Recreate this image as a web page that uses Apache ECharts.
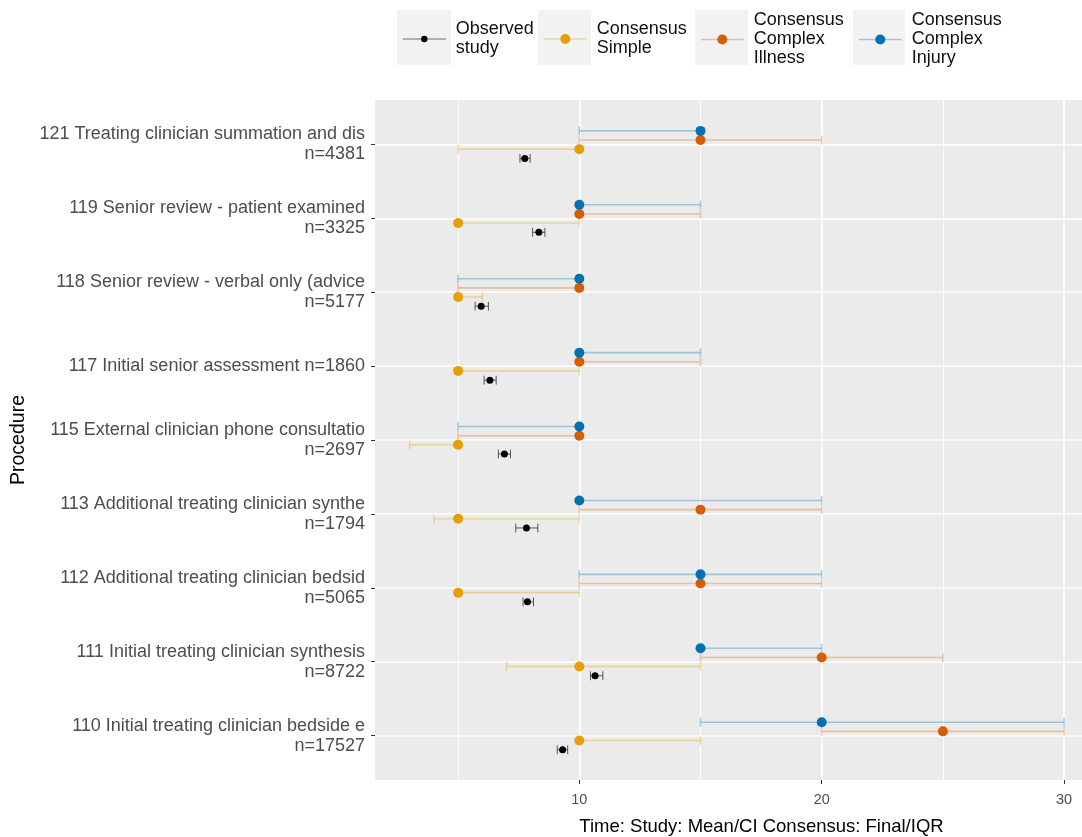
<!DOCTYPE html>
<html>
<head>
<meta charset="utf-8">
<script src="https://cdn.jsdelivr.net/npm/echarts@6/dist/echarts.min.js"></script>
<style>
  html, body { margin: 0; padding: 0; background: #ffffff; }
  #chart { width: 1082px; height: 837px; }
</style>
</head>
<body>
<div id="chart"></div>
<script>
// Procedures, top to bottom, as shown on the y axis
const procedures = [
  '121 Treating clinician summation and dis\nn=4381',
  '119 Senior review - patient examined\nn=3325',
  '118 Senior review - verbal only (advice\nn=5177',
  '117 Initial senior assessment n=1860',
  '115 External clinician phone consultatio\nn=2697',
  '113 Additional treating clinician synthe\nn=1794',
  '112 Additional treating clinician bedsid\nn=5065',
  '111 Initial treating clinician synthesis\nn=8722',
  '110 Initial treating clinician bedside e\nn=17527'
];

// Observed study: mean time with confidence interval
const observedMean = [7.75, 8.33, 5.95, 6.31, 6.91, 7.82, 7.86, 10.65, 9.31];
const observedLow  = [7.55, 8.07, 5.70, 6.07, 6.66, 7.38, 7.68, 10.46, 9.09];
const observedHigh = [7.97, 8.58, 6.25, 6.57, 7.16, 8.29, 8.11, 10.97, 9.52];

// Consensus (simple case): final value with IQR
const simpleFinal = [10, 5, 5, 5, 5, 5, 5, 10, 10];
const simpleLow   = [5, 5, 5, 5, 3, 4, 5, 7, 10];
const simpleHigh  = [10, 10, 6, 10, 5, 10, 10, 15, 15];

// Consensus (complex illness): final value with IQR
const illnessFinal = [15, 10, 10, 10, 10, 15, 15, 20, 25];
const illnessLow   = [10, 10, 5, 10, 5, 10, 10, 15, 20];
const illnessHigh  = [20, 15, 10, 15, 10, 20, 20, 25, 30];

// Consensus (complex injury): final value with IQR
const injuryFinal = [15, 10, 10, 10, 10, 10, 15, 15, 20];
const injuryLow   = [10, 10, 5, 10, 5, 10, 10, 15, 15];
const injuryHigh  = [15, 15, 10, 15, 10, 20, 20, 20, 30];

const seriesNames = ['Observed\nstudy', 'Consensus\nSimple', 'Consensus\nComplex\nIllness', 'Consensus\nComplex\nInjury'];
const xTickValues = [10, 20, 30];
const procedureTicks = procedures.map((_, i) => i);

const FONT = "'Liberation Sans', Arial, Helvetica, sans-serif";

// Drawing styles for each group; dodge is the vertical shift within a procedure row (in row units)
const groups = [
  { name: seriesNames[0], mid: observedMean, low: observedLow, high: observedHigh,
    dodge: 0.19, dot: '#000000', dotSize: 7, bar: 'rgba(60,60,60,0.85)', barWidth: 1,
    keyLine: '#9a9a9a', keyLeft: 402, keyTop: 20, keyHeight: 8 },
  { name: seriesNames[1], mid: simpleFinal, low: simpleLow, high: simpleHigh,
    dodge: 0.065, dot: '#E69F00', dotSize: 10, bar: 'rgba(230,159,0,0.32)', barWidth: 1.6,
    keyLine: 'rgba(230,159,0,0.35)', keyLeft: 543, keyTop: 20, keyHeight: 12.5 },
  { name: seriesNames[2], mid: illnessFinal, low: illnessLow, high: illnessHigh,
    dodge: -0.058, dot: '#D55E00', dotSize: 10, bar: 'rgba(213,94,0,0.30)', barWidth: 1.6,
    keyLine: 'rgba(213,94,0,0.35)', keyLeft: 700, keyTop: 11, keyHeight: 12.5 },
  { name: seriesNames[3], mid: injuryFinal, low: injuryLow, high: injuryHigh,
    dodge: -0.182, dot: '#0072B2', dotSize: 10, bar: 'rgba(0,114,178,0.32)', barWidth: 1.6,
    keyLine: 'rgba(0,114,178,0.35)', keyLeft: 858, keyTop: 11, keyHeight: 12.5 }
];

const CAP = 0.12; // error-bar cap height, in row units

const series = [];
groups.forEach(g => {
  // points (line series without a visible line, so the legend key shows line + dot)
  series.push({
    type: 'line',
    name: g.name,
    data: g.mid.map((v, i) => [v, i + g.dodge]),
    symbol: 'circle',
    symbolSize: g.dotSize,
    showSymbol: true,
    itemStyle: { color: g.dot, borderWidth: 0 },
    lineStyle: { width: 0, color: g.keyLine },
    emphasis: { disabled: true },
    silent: true,
    z: 4
  });
});
groups.forEach(g => {
  // whiskers: interval with end caps
  series.push({
    type: 'custom',
    name: g.name + ' range',
    data: g.low.map((v, i) => [v, g.high[i], i + g.dodge]),
    silent: true,
    z: 2,
    renderItem: function (params, api) {
      const y = api.value(2);
      const a = api.coord([api.value(0), y]);
      const b = api.coord([api.value(1), y]);
      const h = Math.abs(api.size([0, CAP])[1]) / 2;
      const st = { stroke: g.bar, lineWidth: g.barWidth, fill: null };
      return {
        type: 'group',
        children: [
          { type: 'line', shape: { x1: a[0], y1: a[1], x2: b[0], y2: b[1] }, style: st },
          { type: 'line', shape: { x1: a[0], y1: a[1] - h, x2: a[0], y2: a[1] + h }, style: st },
          { type: 'line', shape: { x1: b[0], y1: b[1] - h, x2: b[0], y2: b[1] + h }, style: st }
        ]
      };
    }
  });
});

// one legend block per group, each with its grey key box
const legends = groups.map(g => ({
  data: [g.name],
  left: g.keyLeft,
  top: g.keyTop,
  orient: 'horizontal',
  padding: 0,
  itemWidth: 43,
  itemHeight: g.keyHeight,
  selectedMode: false,
  lineStyle: { color: g.keyLine, width: 1.6, opacity: 1 },
  itemStyle: { color: g.dot, borderWidth: 0 },
  textStyle: { fontFamily: FONT, fontSize: 18, lineHeight: 19, color: '#111111', padding: [0, 0, 0, 5] }
}));

const keyBoxes = [
  { x: 397, w: 54 }, { x: 538, w: 53 }, { x: 695, w: 53 }, { x: 853, w: 52 }
].map(b => ({
  type: 'rect', z: -1,
  shape: { x: b.x, y: 10, width: b.w, height: 55 },
  style: { fill: '#F2F2F2' }
}));

const chart = echarts.init(document.getElementById('chart'), null, { renderer: 'canvas' });
chart.setOption({
  animation: false,
  backgroundColor: '#ffffff',
  textStyle: { fontFamily: FONT },
  graphic: keyBoxes,
  legend: legends,
  grid: {
    left: 375, right: 0, top: 100, bottom: 57,
    show: true, backgroundColor: '#EBEBEB', borderWidth: 0,
    outerBoundsMode: 'none'
  },
  xAxis: {
    type: 'value',
    min: 1.57, max: 30.74,
    minInterval: 10, maxInterval: 10,
    name: 'Time: Study: Mean/CI Consensus: Final/IQR',
    nameLocation: 'middle',
    nameGap: 37,
    nameTextStyle: { fontFamily: FONT, fontSize: 18.5, color: '#000000', padding: [0, 0, 0, 66] },
    axisLine: { show: false, onZero: false },
    axisTick: { show: true, customValues: xTickValues, length: 4, lineStyle: { color: '#333333', width: 1 } },
    axisLabel: { customValues: xTickValues, color: '#4D4D4D', fontSize: 14.5, fontFamily: FONT, margin: 12 },
    splitLine: { show: true, lineStyle: { color: '#FFFFFF', width: 1.7 } },
    minorTick: { show: false, splitNumber: 2 },
    minorSplitLine: { show: true, lineStyle: { color: '#FFFFFF', width: 0.9 } }
  },
  yAxis: {
    type: 'value',
    inverse: true,
    min: -0.6, max: 8.6,
    minInterval: 1, maxInterval: 1,
    name: 'Procedure',
    nameLocation: 'middle',
    nameGap: 342,
    nameRotate: 90,
    nameTextStyle: { fontFamily: FONT, fontSize: 19.5, color: '#000000' },
    axisLine: { show: false, onZero: false },
    axisTick: { show: true, customValues: procedureTicks, length: 4, lineStyle: { color: '#333333', width: 1 } },
    axisLabel: {
      customValues: procedureTicks,
      formatter: v => procedures[Math.round(v)] || '',
      color: '#4D4D4D', fontSize: 18, lineHeight: 20, fontFamily: FONT, margin: 10, align: 'right',
      padding: [6, 0, 0, 0]
    },
    splitLine: { show: true, lineStyle: { color: '#FFFFFF', width: 1.7 } }
  },
  series: series
});
</script>
</body>
</html>
